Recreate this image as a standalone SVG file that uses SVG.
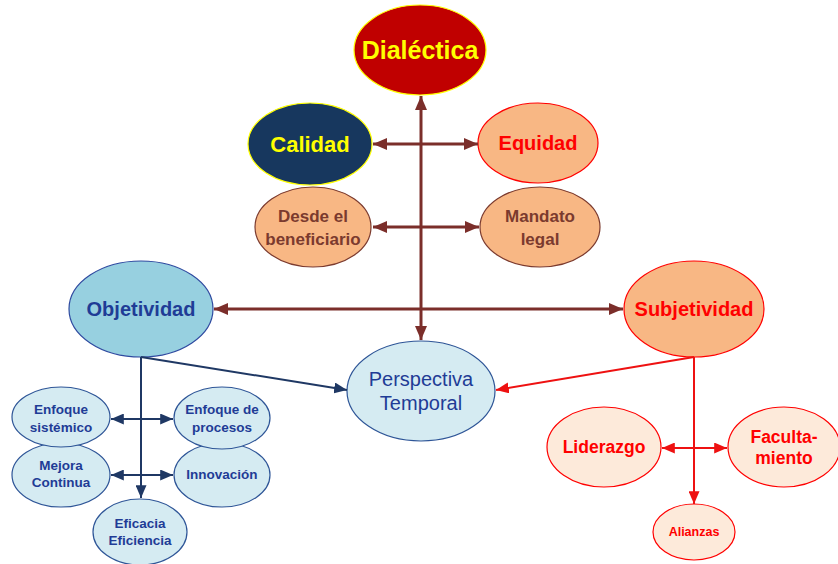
<svg xmlns="http://www.w3.org/2000/svg" width="838" height="564" viewBox="0 0 838 564">
  <style>
    text { font-family: "Liberation Sans", Arial, sans-serif; font-weight: bold; text-anchor: middle; }
    .peach { fill: #F8B784; }
    .pale { fill: #FDEADA; stroke: #FF0000; stroke-width: 1.2; }
    .sky { fill: #D5EBF2; stroke: #2E5597; stroke-width: 1.2; }
    .maroon { stroke: #7B2E2A; stroke-width: 3; fill: none; }
    .navy { stroke: #1F3864; stroke-width: 2; fill: none; }
    .red { stroke: #EE1111; stroke-width: 2; fill: none; }
    .t-blue { fill: #1F3C96; }
    .t-red { fill: #FF0000; }
    .t-brown { fill: #7B3A2E; }
    .t-yellow { fill: #FFFF00; }
  </style>
  <defs>
    <marker id="mA" markerUnits="userSpaceOnUse" viewBox="0 0 14 12" refX="14" refY="6" markerWidth="14" markerHeight="12" orient="auto-start-reverse">
      <path d="M0,0 L14,6 L0,12 Z" fill="#7B2E2A"/>
    </marker>
    <marker id="mN" markerUnits="userSpaceOnUse" viewBox="0 0 14 12" refX="14" refY="6" markerWidth="13" markerHeight="11" orient="auto-start-reverse">
      <path d="M0,0 L14,6 L0,12 Z" fill="#1F3864"/>
    </marker>
    <marker id="mR" markerUnits="userSpaceOnUse" viewBox="0 0 14 12" refX="14" refY="6" markerWidth="13" markerHeight="11" orient="auto-start-reverse">
      <path d="M0,0 L14,6 L0,12 Z" fill="#EE1111"/>
    </marker>
  </defs>

  <!-- top section -->
  <g id="dialectica">
    <ellipse cx="420" cy="50" rx="66" ry="45" fill="#C00000" stroke="#FFFF00" stroke-width="1.2"/>
    <text x="420" y="59" font-size="25" class="t-yellow">Dialéctica</text>
  </g>
  <g id="calidad">
    <ellipse cx="310" cy="144" rx="62" ry="41" fill="#17375E" stroke="#FFFF00" stroke-width="1.2"/>
    <text x="310" y="152" font-size="22" class="t-yellow">Calidad</text>
  </g>
  <g id="equidad">
    <ellipse cx="538" cy="143" rx="60" ry="40" class="peach" stroke="#FF0000" stroke-width="1.2"/>
    <text x="538" y="150" font-size="20" class="t-red">Equidad</text>
  </g>
  <g id="beneficiario">
    <ellipse cx="313" cy="227" rx="58" ry="40" class="peach" stroke="#7B3A2E" stroke-width="1.2"/>
    <text x="313" y="222" font-size="17" class="t-brown">Desde el</text>
    <text x="313" y="245" font-size="17" class="t-brown">beneficiario</text>
  </g>
  <g id="mandato">
    <ellipse cx="540" cy="227" rx="60" ry="40" class="peach" stroke="#7B3A2E" stroke-width="1.2"/>
    <text x="540" y="222" font-size="17" class="t-brown">Mandato</text>
    <text x="540" y="245" font-size="17" class="t-brown">legal</text>
  </g>

  <!-- middle row -->
  <g id="objetividad">
    <ellipse cx="141" cy="309" rx="72" ry="48" fill="#97D0E0" stroke="#2E4AA0" stroke-width="1.2"/>
    <text x="141" y="316" font-size="20" class="t-blue">Objetividad</text>
  </g>
  <g id="subjetividad">
    <ellipse cx="694" cy="309" rx="70" ry="48" class="peach" stroke="#FF0000" stroke-width="1.2"/>
    <text x="694" y="316" font-size="20" class="t-red">Subjetividad</text>
  </g>
  <g id="perspectiva">
    <ellipse cx="421" cy="391" rx="74" ry="50" class="sky"/>
    <text x="421" y="386" font-size="20" font-weight="normal" class="t-blue" style="font-weight:normal">Perspectiva</text>
    <text x="421" y="410" font-size="20" class="t-blue" style="font-weight:normal">Temporal</text>
  </g>

  <!-- objective cluster -->
  <g id="mejora">
    <ellipse cx="61" cy="475" rx="49" ry="32" class="sky"/>
    <text x="61" y="470" font-size="13.5" class="t-blue">Mejora</text>
    <text x="61" y="487" font-size="13.5" class="t-blue">Continua</text>
  </g>
  <g id="innovacion">
    <ellipse cx="222" cy="475" rx="48" ry="32" class="sky"/>
    <text x="222" y="479" font-size="13.5" class="t-blue">Innovación</text>
  </g>
  <g id="sistemico">
    <ellipse cx="61" cy="417" rx="49" ry="30" class="sky"/>
    <text x="61" y="414" font-size="13.5" class="t-blue">Enfoque</text>
    <text x="61" y="432" font-size="13.5" class="t-blue">sistémico</text>
  </g>
  <g id="procesos">
    <ellipse cx="222" cy="418" rx="48" ry="31" class="sky"/>
    <text x="222" y="414" font-size="13.5" class="t-blue">Enfoque de</text>
    <text x="222" y="432" font-size="13.5" class="t-blue">procesos</text>
  </g>
  <g id="eficacia">
    <ellipse cx="140" cy="532" rx="47" ry="33" class="sky"/>
    <text x="140" y="528" font-size="13.5" class="t-blue">Eficacia</text>
    <text x="140" y="545" font-size="13.5" class="t-blue">Eficiencia</text>
  </g>

  <!-- subjective cluster -->
  <g id="liderazgo">
    <ellipse cx="604" cy="447" rx="57" ry="40" class="pale"/>
    <text x="604" y="453" font-size="17.5" class="t-red">Liderazgo</text>
  </g>
  <g id="facultamiento">
    <ellipse cx="784" cy="447" rx="56" ry="40" class="pale"/>
    <text x="784" y="443" font-size="17.5" class="t-red">Faculta-</text>
    <text x="784" y="464" font-size="17.5" class="t-red">miento</text>
  </g>
  <g id="alianzas">
    <ellipse cx="694" cy="532" rx="41" ry="28" class="pale"/>
    <text x="694" y="536" font-size="12.5" class="t-red">Alianzas</text>
  </g>

  <!-- connectors -->
  <g id="connectors">
    <line x1="421" y1="96" x2="421" y2="340" class="maroon" marker-start="url(#mA)" marker-end="url(#mA)"/>
    <line x1="373" y1="144" x2="478" y2="144" class="maroon" marker-start="url(#mA)" marker-end="url(#mA)"/>
    <line x1="373" y1="227" x2="479" y2="227" class="maroon" marker-start="url(#mA)" marker-end="url(#mA)"/>
    <line x1="214" y1="309" x2="623" y2="309" class="maroon" marker-start="url(#mA)" marker-end="url(#mA)"/>

    <line x1="141" y1="357" x2="347" y2="390" class="navy" marker-end="url(#mN)"/>
    <line x1="141" y1="357" x2="141" y2="498" class="navy" marker-end="url(#mN)"/>
    <line x1="111" y1="419" x2="173" y2="419" class="navy" marker-start="url(#mN)" marker-end="url(#mN)"/>
    <line x1="111" y1="475" x2="173" y2="475" class="navy" marker-start="url(#mN)" marker-end="url(#mN)"/>

    <line x1="694" y1="357" x2="496" y2="390" class="red" marker-end="url(#mR)"/>
    <line x1="694" y1="357" x2="694" y2="504" class="red" marker-end="url(#mR)"/>
    <line x1="662" y1="448" x2="727" y2="448" class="red" marker-start="url(#mR)" marker-end="url(#mR)"/>
  </g>
</svg>
